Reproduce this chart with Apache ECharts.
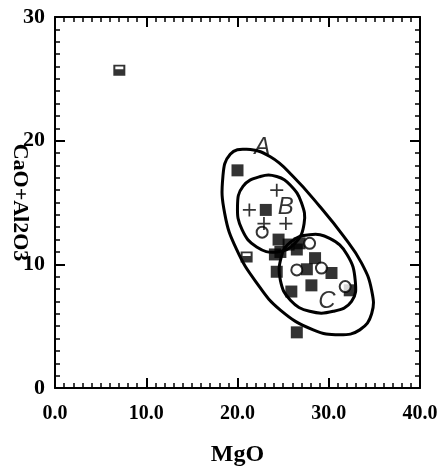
<!DOCTYPE html>
<html><head><meta charset="utf-8">
<script src="https://cdn.jsdelivr.net/npm/echarts@6/dist/echarts.min.js"></script>
<style>html,body{margin:0;padding:0;background:#fff}#c{width:442px;height:467px}</style>
</head><body><div id="c"></div>
<script>
const xName = 'MgO';
const yName = 'CaO+Al2O3';
const xTickValues = [0, 10, 20, 30, 40];
const yTickValues = [0, 10, 20, 30];
const filledSquares = [[20.0,17.6],[23.1,14.4],[24.5,12.0],[25.6,11.6],[26.8,11.7],[24.1,10.8],[24.7,11.0],[26.5,11.2],[24.3,9.4],[28.5,10.5],[27.6,9.6],[30.3,9.3],[28.1,8.3],[25.9,7.8],[32.3,7.9],[26.5,4.5]];
const openCircles = [[27.9,11.7],[26.5,9.55],[29.2,9.7],[31.8,8.2],[22.7,12.6]];
const plusSigns = [[24.3,16.0],[21.3,14.4],[25.3,13.3],[22.9,13.3]];
const halfSquares = [[7.05,25.7],[21.0,10.6]];
const envelopeA = [[21.0,19.3],[23.6,18.7],[26.1,17.1],[29.0,14.7],[31.6,12.3],[33.6,10.1],[34.7,7.9],[34.7,6.0],[33.4,4.7],[31.2,4.3],[28.3,4.7],[24.7,6.3],[22.1,8.5],[19.9,11.2],[18.6,14.1],[18.4,17.1],[19.2,18.9]];
const envelopeB = [[22.5,17.1],[24.3,17.1],[25.8,16.4],[27.0,15.0],[27.3,13.3],[26.3,11.7],[24.3,11.0],[22.1,11.4],[20.5,12.8],[20.0,14.7],[20.6,16.3]];
const envelopeC = [[25.8,11.8],[27.9,12.4],[30.1,12.1],[32.0,10.8],[32.9,8.7],[32.5,7.0],[30.5,6.2],[27.9,6.2],[25.8,7.1],[24.7,8.7],[24.8,10.6]];
const fieldLabels = [[22.7,19.5,'A'],[25.3,14.6,'B'],[29.8,7.0,'C']];

const serifBold = {fontFamily:'Liberation Serif', fontWeight:'bold', color:'#000'};
const axisLine = {show:true, onZero:false, lineStyle:{color:'#000', width:2}};
const tick = {show:true, inside:true, length:10, lineStyle:{color:'#000', width:2}};
const minor = {show:true, splitNumber:10, length:5, lineStyle:{color:'#000', width:1.5}};

function xAx(pos, labels) {
  return {type:'value', min:0, max:40, interval:10, position:pos,
    axisLine:axisLine, axisTick:tick, minorTick:minor, splitLine:{show:false},
    axisLabel: labels ? Object.assign({show:true, fontSize:20, margin:16,
      formatter: v => xTickValues.includes(v) ? v.toFixed(1) : ''}, serifBold) : {show:false},
    name: labels ? xName : '', nameLocation:'middle', nameGap:55, nameMoveOverlap:false,
    nameTextStyle:Object.assign({fontSize:24}, serifBold)};
}
function yAx(pos, labels) {
  return {type:'value', min:0, max:30, interval:10, position:pos,
    axisLine:axisLine, axisTick:tick, minorTick:minor, splitLine:{show:false},
    axisLabel: labels ? Object.assign({show:true, fontSize:22, margin:10,
      formatter: v => yTickValues.includes(v) ? String(v) : ''}, serifBold) : {show:false},
    name: labels ? yName : '', nameLocation:'middle', nameGap:24, nameRotate:-90, nameMoveOverlap:false,
    nameTextStyle:Object.assign({fontSize:22}, serifBold)};
}
function envelope(points) {
  return {type:'custom', data:points, silent:true, z:1,
    renderItem:(params, api) => {
      if (params.dataIndex !== 0) return null;
      return {type:'polygon', shape:{points:points.map(p => api.coord(p)), smooth:0.45},
        style:{fill:'none', stroke:'#000', lineWidth:3}};
    }};
}
const option = {
  animation:false,
  grid:{left:55, right:22, top:17, bottom:79, containLabel:false, outerBoundsMode:'none'},
  xAxis:[xAx('bottom', true), xAx('top', false)],
  yAxis:[yAx('left', true), yAx('right', false)],
  series:[
    envelope(envelopeA), envelope(envelopeB), envelope(envelopeC),
    {type:'scatter', data:filledSquares, symbol:'rect', symbolSize:12, z:3, itemStyle:{color:'#000'}},
    {type:'scatter', data:openCircles, symbol:'circle', symbolSize:11, z:4, itemStyle:{color:'#fff', borderColor:'#000', borderWidth:2}},
    {type:'scatter', data:plusSigns, symbol:'path://M5.2,0L6.8,0L6.8,5.2L12,5.2L12,6.8L6.8,6.8L6.8,12L5.2,12L5.2,6.8L0,6.8L0,5.2L5.2,5.2Z', symbolSize:13, z:4, itemStyle:{color:'#000'}},
    {type:'scatter', data:halfSquares, symbol:'path://M0,0L12,0L12,12L0,12Z M2,2L2,5L10,5L10,2Z', symbolSize:[12,11], z:4, itemStyle:{color:'#000'}},
    {type:'scatter', data:fieldLabels, symbolSize:0, z:5,
      label:{show:true, position:'inside', formatter:p => p.data[2], fontFamily:'Liberation Sans', fontStyle:'italic', fontSize:24, color:'#000'}}
  ]
};
echarts.init(document.getElementById('c')).setOption(option);
</script></body></html>
